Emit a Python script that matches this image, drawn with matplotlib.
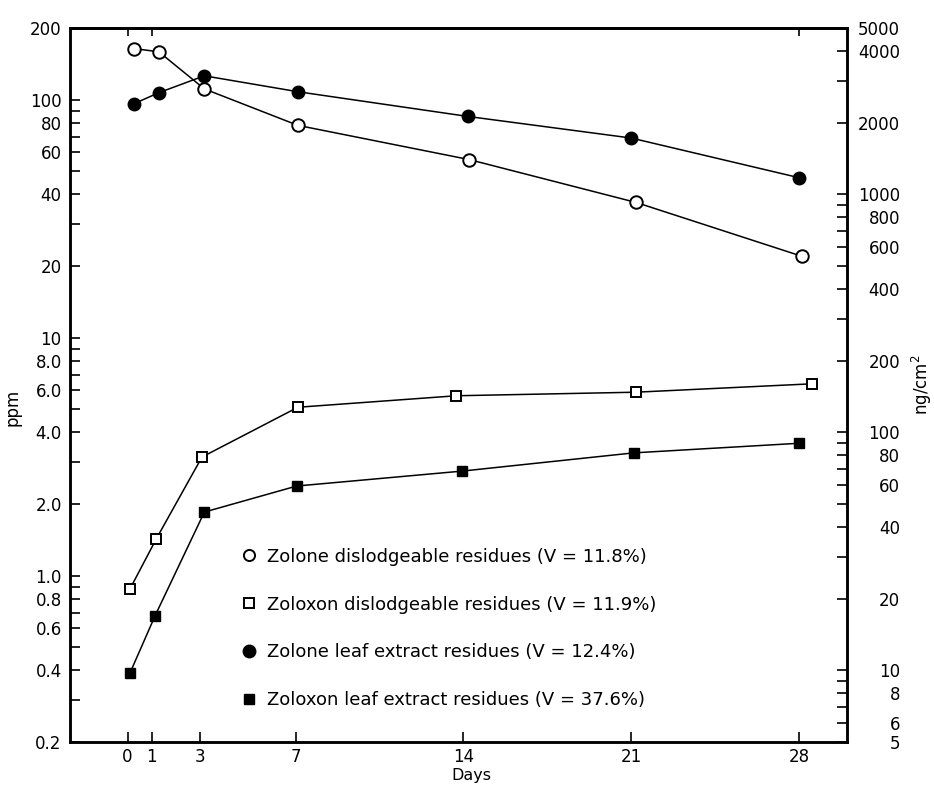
import matplotlib
matplotlib.use('Agg')
import matplotlib.pyplot as plt
from matplotlib.lines import Line2D

plt.rcParams['font.family'] = ['DejaVu Sans']

day_ticks = [0, 1, 3, 7, 14, 21, 28]
top_day_ticks = [0, 1, 28]

# points sit a little to the right of the day ticks in the original
zolone_disl_days = [0.25, 1.3, 3.2, 7.1, 14.25, 21.2, 28.1]
zolone_disl_ppm = [164, 159, 111, 78, 56, 37, 22]
zoloxon_disl_days = [0.1, 1.2, 3.1, 7.1, 13.7, 21.2, 28.55]
zoloxon_disl_ppm = [0.88, 1.43, 3.15, 5.1, 5.7, 5.9, 6.4]
zolone_leaf_days = [0.25, 1.3, 3.2, 7.1, 14.2, 21.0, 28.0]
zolone_leaf_ppm = [96, 107, 126, 108, 85, 69, 47]
zoloxon_leaf_days = [0.1, 1.15, 3.2, 7.05, 13.95, 21.1, 28.0]
zoloxon_leaf_ppm = [0.39, 0.68, 1.85, 2.38, 2.75, 3.28, 3.6]

legend_labels = ['Zolone dislodgeable residues (V = 11.8%)',
                 'Zoloxon dislodgeable residues (V = 11.9%)',
                 'Zolone leaf extract residues (V = 12.4%)',
                 'Zoloxon leaf extract residues (V = 37.6%)']

ppm_major = [0.2, 0.4, 0.6, 0.8, 1, 2, 4, 6, 8, 10, 20, 40, 60, 80, 100, 200]
ppm_labels = ['0.2', '0.4', '0.6', '0.8', '1.0', '2.0', '4.0', '6.0', '8.0',
              '10', '20', '40', '60', '80', '100', '200']
ppm_minor = [0.3, 0.5, 0.7, 0.9, 3, 5, 7, 9, 30, 50, 70, 90]

ng_major = [5, 6, 8, 10, 20, 40, 60, 80, 100, 200, 400, 600, 800, 1000, 2000, 4000, 5000]
ng_labels = [str(v) for v in ng_major]
ng_minor = [7, 9, 30, 50, 70, 90, 300, 500, 700, 900, 3000]

FS = 12
LW = 1.1

fig = plt.figure(figsize=(9.34, 7.88), dpi=100)
ax = fig.add_axes([0.075, 0.0584, 0.832, 0.906])

ax.plot(zolone_disl_days, zolone_disl_ppm, color='k', lw=LW, marker='o', ms=9,
        mfc='white', mec='k', mew=1.4, zorder=3)
ax.plot(zoloxon_disl_days, zoloxon_disl_ppm, color='k', lw=LW, marker='s', ms=7.5,
        mfc='white', mec='k', mew=1.4, zorder=3)
ax.plot(zolone_leaf_days, zolone_leaf_ppm, color='k', lw=LW, marker='o', ms=9,
        mfc='k', mec='k', zorder=3)
ax.plot(zoloxon_leaf_days, zoloxon_leaf_ppm, color='k', lw=LW, marker='s', ms=7.5,
        mfc='k', mec='k', zorder=3)

ax.set_yscale('log')
ax.set_ylim(0.2, 200)
ax.set_xlim(-2.4, 30.0)
ax.set_yticks(ppm_major)
ax.set_yticklabels(ppm_labels)
ax.set_yticks(ppm_minor, minor=True)
ax.set_xticks(day_ticks)
ax.set_xticklabels([str(d) for d in day_ticks])
ax.tick_params(axis='both', which='both', direction='in', length=7, width=1.2,
               labelsize=FS)
ax.tick_params(axis='y', pad=6)
ax.tick_params(axis='x', pad=4)

# top ticks seen only at a few days
sec = ax.secondary_xaxis('top')
sec.set_xticks(top_day_ticks)
sec.set_xticklabels([])
sec.tick_params(direction='in', length=6, width=1.2)
sec.spines['top'].set_linewidth(1.8)

for s in ax.spines.values():
    s.set_linewidth(1.8)

ax2 = ax.twinx()
ax2.set_yscale('log')
ax2.set_ylim(5, 5000)
ax2.set_yticks(ng_major)
ax2.set_yticklabels(ng_labels)
ax2.set_yticks(ng_minor, minor=True)
ax2.yaxis.set_minor_formatter(plt.NullFormatter())
ax2.tick_params(axis='y', which='both', direction='in', length=7, width=1.2,
                labelsize=FS, pad=38)
for lab in ax2.get_yticklabels():
    lab.set_horizontalalignment('right')
for s in ax2.spines.values():
    s.set_linewidth(1.8)

ax.set_xlabel('Days', fontsize=11.5)
ax.xaxis.set_label_coords(0.517, -0.037)
ax.set_ylabel('ppm', fontsize=FS)
ax.yaxis.set_label_coords(-0.062, 0.468)
fig.text(922 / 934, 1 - 385 / 788, 'ng/cm$^2$', fontsize=FS, rotation=90,
         ha='center', va='center')

handles = [
    Line2D([], [], ls='none', marker='o', ms=8, mfc='white', mec='k', mew=1.4),
    Line2D([], [], ls='none', marker='s', ms=7, mfc='white', mec='k', mew=1.4),
    Line2D([], [], ls='none', marker='o', ms=9, mfc='k', mec='k'),
    Line2D([], [], ls='none', marker='s', ms=7, mfc='k', mec='k'),
]
ax.legend(handles, legend_labels, loc='upper left', bbox_to_anchor=(0.219, 0.272),
          frameon=False, fontsize=13, handlelength=1.0, handletextpad=0.5,
          borderpad=0, borderaxespad=0, labelspacing=1.65)

fig.savefig('out.png', dpi=100)
